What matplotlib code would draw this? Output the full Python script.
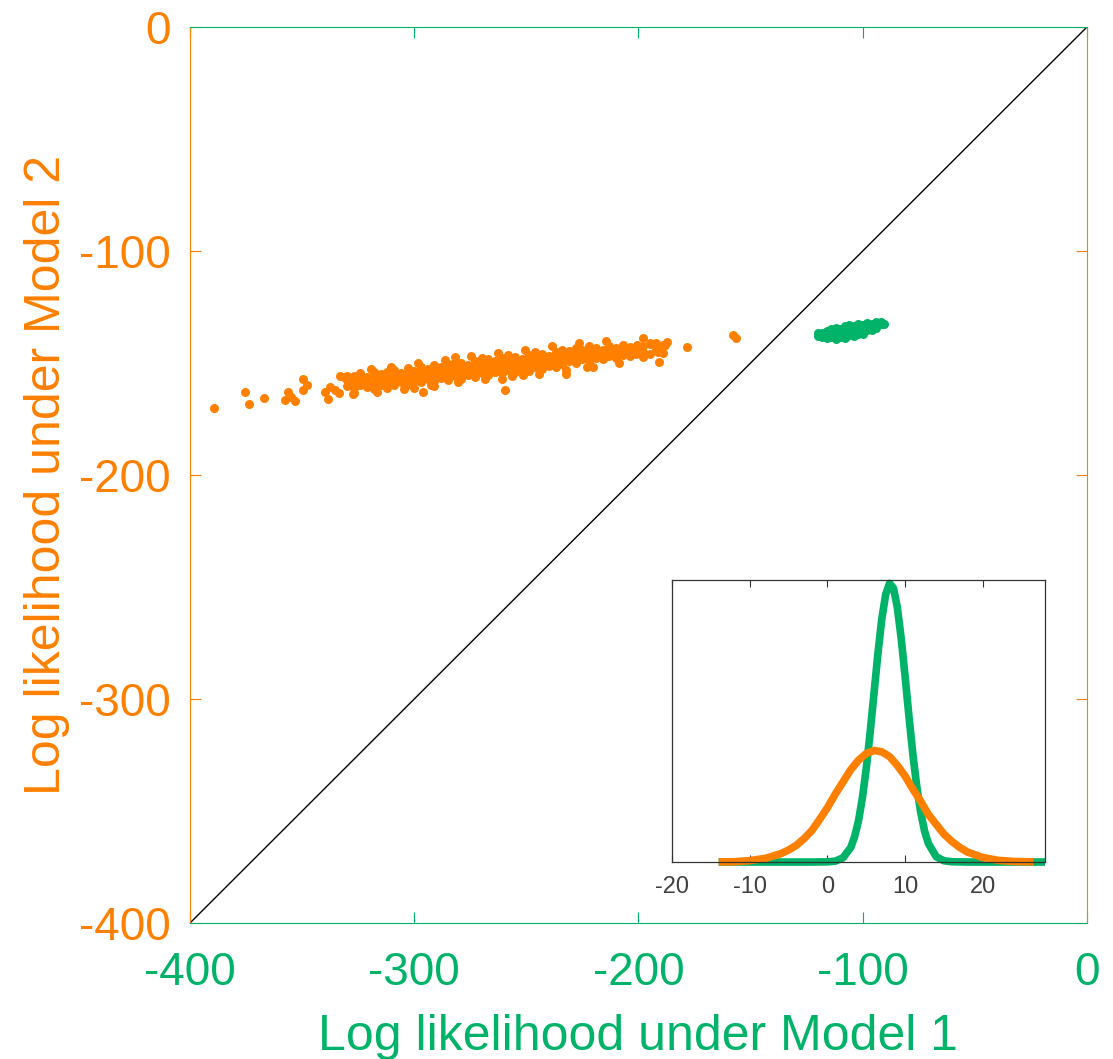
import numpy as np
import matplotlib.pyplot as plt

plt.rcParams['font.family'] = ['Liberation Sans', 'DejaVu Sans']
plt.rcParams['axes.unicode_minus'] = False

ORANGE = '#FF8000'
GREEN = '#00B368'

# orange scatter: (Model 1, Model 2) log likelihoods
orange_pts = [
    (-389.3, -170.1), (-375.5, -163.0), (-373.7, -168.3), (-367.0, -165.6),
    (-356.3, -163.0), (-357.6, -166.5), (-353.2, -167.0), (-355.0, -165.2),
    (-349.6, -157.1), (-347.8, -159.8), (-349.6, -162.0), (-339.8, -163.0),
    (-338.5, -166.0), (-337.6, -160.7), (-335.3, -162.0), (-333.5, -163.4),
    (-333.1, -155.8), (-331.3, -156.2), (-326.9, -163.4), (-326.4, -156.7),
    (-325.1, -158.9), (-327.3, -163.8), (-296.0, -163.0), (-281.8, -147.3),
    (-330, -157.5), (-330, -160.2), (-330, -156.0),
    (-327, -159.5), (-327, -155.8), (-327, -161.0),
    (-324, -157.0), (-324, -159.8), (-324, -154.6),
    (-321, -158.5), (-321, -156.2), (-321, -160.6),
    (-318, -156.0), (-318, -158.8), (-318, -161.5), (-318, -154.2),
    (-315, -157.5), (-315, -155.0), (-315, -159.9),
    (-312, -156.8), (-312, -153.9), (-312, -158.6), (-312, -161.2),
    (-309, -155.2), (-309, -157.9), (-309, -153.0), (-309, -160.0),
    (-306, -156.5), (-306, -154.3), (-306, -158.3),
    (-303, -154.8), (-303, -157.2), (-303, -152.3), (-303, -159.5),
    (-300, -155.8), (-300, -153.5), (-300, -157.9), (-300, -161.0),
    (-297, -153.9), (-297, -156.3), (-297, -151.8), (-297, -158.4),
    (-294, -155.0), (-294, -152.6), (-294, -157.3),
    (-291, -153.2), (-291, -155.8), (-291, -150.9), (-291, -157.9), (-291, -160.3),
    (-288, -154.5), (-288, -152.0), (-288, -156.6),
    (-285, -152.5), (-285, -155.2), (-285, -150.4), (-285, -157.6),
    (-282, -153.8), (-282, -151.3), (-282, -155.9), (-282, -149.5),
    (-279, -152.0), (-279, -154.7), (-279, -150.0), (-279, -157.0),
    (-276, -153.1), (-276, -150.8), (-276, -155.4),
    (-273, -151.2), (-273, -153.8), (-273, -149.1), (-273, -156.2),
    (-270, -152.4), (-270, -150.0), (-270, -154.6), (-270, -147.9),
    (-267, -150.6), (-267, -153.1), (-267, -148.4), (-267, -155.5),
    (-264, -151.8), (-264, -149.3), (-264, -153.9),
    (-261, -150.0), (-261, -152.5), (-261, -147.8), (-261, -154.6),
    (-258, -151.2), (-258, -148.8), (-258, -153.2), (-258, -146.6),
    (-255, -149.4), (-255, -151.8), (-255, -147.3), (-255, -154.1),
    (-252, -150.5), (-252, -148.1), (-252, -152.6),
    (-249, -148.7), (-249, -151.0), (-249, -146.5), (-249, -153.4),
    (-246, -149.8), (-246, -147.4), (-246, -151.9), (-246, -145.3),
    (-243, -148.0), (-243, -150.4), (-243, -146.0), (-243, -152.8),
    (-240, -149.1), (-240, -146.8), (-240, -151.2),
    (-237, -147.3), (-237, -149.7), (-237, -145.3), (-237, -152.0),
    (-234, -148.4), (-234, -146.1), (-234, -150.5), (-234, -144.0),
    (-231, -146.7), (-231, -149.0), (-231, -144.7),
    (-228, -147.8), (-228, -145.5), (-228, -149.9), (-228, -143.4),
    (-225, -146.0), (-225, -148.3), (-225, -144.2),
    (-222, -147.0), (-222, -144.8), (-222, -149.2), (-222, -142.6),
    (-219, -145.3), (-219, -147.6), (-219, -143.4),
    (-216, -146.4), (-216, -144.1), (-216, -148.3),
    (-213, -144.6), (-213, -146.9), (-213, -142.3),
    (-210, -145.8), (-210, -143.5), (-210, -147.6),
    (-207, -144.0), (-207, -146.3), (-207, -141.8),
    (-204, -145.1), (-204, -142.9), (-204, -147.0),
    (-201, -143.2), (-201, -145.8),
    (-198, -142.5), (-198, -144.9), (-198, -147.5),
    (-195, -141.5), (-195, -146.0),
    (-192, -144.2), (-192, -140.9),
    (-189, -142.0), (-189, -145.5),
    (-198.0, -138.8), (-194.8, -141.1), (-192.6, -142.0), (-187.2, -140.6),
    (-188.1, -142.0), (-191.3, -145.1), (-190.8, -149.5), (-198.0, -145.5),
    (-200.6, -142.0), (-178.3, -142.8), (-157.8, -137.5), (-156.5, -138.8),
    (-260.8, -157.1), (-251.5, -155.3), (-232.3, -155.0), (-223.0, -151.8),
    (-259.5, -162.0),
    (-319.5, -152.8), (-310.5, -151.9), (-298.5, -150.2), (-286.5, -148.6),
    (-274.5, -147.0), (-262.5, -145.4), (-250.5, -144.0), (-238.5, -142.6),
    (-226.5, -141.0), (-214.5, -140.2), (-316.5, -163.0), (-304.5, -161.6),
    (-292.5, -159.8), (-280.5, -158.6), (-268.5, -157.3), (-256.5, -155.9),
    (-244.5, -154.8), (-232.5, -153.1), (-220.5, -151.9), (-208.5, -150.2),
]

green_pts = [
    (-120, -137.8), (-120, -136.5),
    (-118, -138.5), (-118, -136.8), (-118, -137.5),
    (-116, -137.2), (-116, -135.5), (-116, -139.0),
    (-114, -136.6), (-114, -138.6), (-114, -134.9), (-114, -137.8),
    (-112, -135.8), (-112, -137.9), (-112, -134.3), (-112, -139.2),
    (-110, -136.4), (-110, -134.8), (-110, -138.3), (-110, -135.6),
    (-108, -135.0), (-108, -137.4), (-108, -133.6), (-108, -138.8),
    (-106, -135.9), (-106, -134.2), (-106, -137.6), (-106, -133.0),
    (-104, -134.6), (-104, -136.8), (-104, -133.3), (-104, -138.0),
    (-102, -135.3), (-102, -133.7), (-102, -136.9), (-102, -132.6),
    (-100, -134.2), (-100, -135.9), (-100, -132.9), (-100, -137.2),
    (-98, -133.5), (-98, -135.1), (-98, -132.2),
    (-96, -134.0), (-96, -132.6), (-96, -135.4),
    (-94, -133.2), (-94, -131.9), (-94, -134.5),
    (-92, -132.8), (-92, -131.8),
    (-90.5, -132.4),
]

# inset densities
green_curve_x = [-14, -10, -6, -2, 0, 1, 2, 3, 3.5, 4, 4.5, 5, 5.5, 6, 6.5, 7,
                 7.5, 8, 8.5, 9, 9.5, 10, 10.5, 11, 11.5, 12, 12.5, 13, 14,
                 15, 16, 18, 22, 28]
green_curve_y = [0, 0, 0, 0, 0.0006, 0.003, 0.015, 0.052, 0.091, 0.148, 0.23,
                 0.336, 0.465, 0.607, 0.748, 0.872, 0.96, 0.999, 0.982, 0.912,
                 0.80, 0.664, 0.52, 0.385, 0.27, 0.179, 0.111, 0.066, 0.019,
                 0.0045, 0.001, 0, 0, 0]
orange_curve_x = [-14, -12, -10, -8, -6, -5, -4, -3, -2, -1, 0, 1, 2, 3, 4, 5,
                  6, 7, 8, 9, 10, 11, 12, 13, 14, 15, 16, 17, 18, 20, 22, 24,
                  26.5]
orange_curve_y = [0.0003, 0.001, 0.005, 0.013, 0.030, 0.043, 0.060, 0.084,
                  0.113, 0.153, 0.195, 0.243, 0.287, 0.331, 0.365, 0.389,
                  0.400, 0.395, 0.378, 0.346, 0.308, 0.261, 0.218, 0.170,
                  0.135, 0.100, 0.074, 0.053, 0.036, 0.016, 0.006, 0.002,
                  0.0005]

main_ticks = [-400, -300, -200, -100, 0]
inset_ticks = [-20, -10, 0, 10, 20]


def main():
    fig = plt.figure(figsize=(11.13, 10.59), dpi=100)
    ax = fig.add_axes([0.1707, 0.1284, 0.8059, 0.8461])

    ax.plot([-400, 0], [-400, 0], color='black', linewidth=1)
    ox, oy = zip(*orange_pts)
    gx, gy = zip(*green_pts)
    ax.scatter(ox, oy, s=42, color=ORANGE, linewidths=0)
    ax.scatter(gx, gy, s=42, color=GREEN, linewidths=0)

    ax.set_xlim(-400, 0)
    ax.set_ylim(-400, 0)
    ax.set_xticks(main_ticks)
    ax.set_yticks(main_ticks)
    for side in ['left', 'right']:
        ax.spines[side].set_color(ORANGE)
    for side in ['top', 'bottom']:
        ax.spines[side].set_color(GREEN)
    ax.tick_params(axis='x', direction='in', top=True, length=8,
                   color=GREEN, labelcolor=GREEN, labelsize=33, pad=20)
    ax.tick_params(axis='y', direction='in', right=True, length=8,
                   color=ORANGE, labelcolor=ORANGE, labelsize=33, pad=14)
    ax.set_xlabel('Log likelihood under Model 1', color=GREEN, fontsize=36,
                  labelpad=14)
    ax.set_ylabel('Log likelihood under Model 2', color=ORANGE, fontsize=36,
                  labelpad=6)

    # inset with the two densities
    ins = fig.add_axes([0.6038, 0.186, 0.3351, 0.2663])
    ins.plot(green_curve_x, green_curve_y, color=GREEN, linewidth=5.5,
             solid_capstyle='butt', clip_on=False)
    ins.plot(orange_curve_x, orange_curve_y, color=ORANGE, linewidth=5.5,
             solid_capstyle='butt', clip_on=False)
    ins.set_xlim(-20, 28)
    ins.set_ylim(0, 1.011)
    ins.set_xticks(inset_ticks)
    ins.set_yticks([])
    for sp in ins.spines.values():
        sp.set_color('#333333')
        sp.set_linewidth(0.9)
    ins.tick_params(axis='x', direction='in', top=True, length=5,
                    color='#333333', labelcolor='#404040', labelsize=17,
                    pad=10)

    fig.savefig('out.png', dpi=100)


if __name__ == "__main__":
    main()
